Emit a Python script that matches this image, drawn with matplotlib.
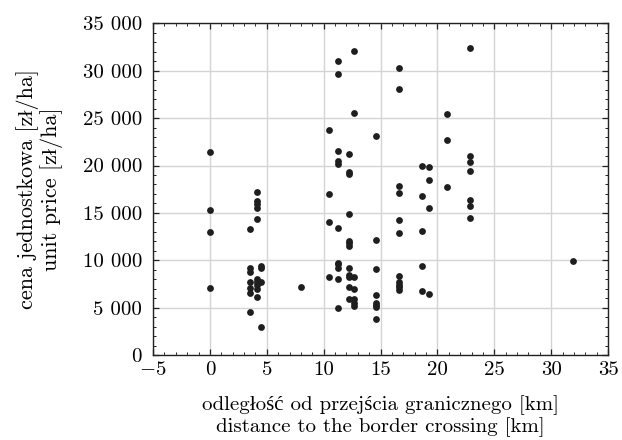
import matplotlib
matplotlib.use("Agg")
import matplotlib.pyplot as plt
import matplotlib.ticker as mtick

plt.rcParams.update({
    "font.family": ["cmr10", "Liberation Serif", "DejaVu Serif"],
    "mathtext.fontset": "cm",
    "axes.unicode_minus": False,
    "font.size": 15,
})

# distance to the border crossing [km] and unit price [zl/ha], read per column
dist_km = (
    [0.0] * 4 + [3.5] * 7 + [4.1] * 10 + [4.5] * 4 + [8.0] * 1
    + [10.45] * 4 + [11.27] * 11 + [12.26] * 12 + [12.67] * 7
    + [14.6] * 8 + [16.6] * 11 + [18.68] * 5 + [19.3] * 4
    + [20.85] * 3 + [22.9] * 7 + [31.96] * 1
)
price = [
    21400, 15260, 13010, 7070,
    13290, 9140, 8760, 7700, 7070, 6510, 4540,
    17160, 16280, 15930, 15470, 14350, 7990, 7740, 7390, 7000, 6090,
    9390, 9210, 7700, 2950,
    7210,
    23770, 16950, 14060, 8190,
    31000, 29650, 21520, 20500, 20120, 13360, 9740, 9570, 9140, 7990, 4960,
    21170, 19340, 19060, 14910, 12060, 11850, 11470, 9180, 8440, 8230, 7140, 5880,
    32040, 25500, 8190, 7000, 5880, 5520, 5200,
    23070, 12170, 9100, 6360, 5520, 5275, 5060, 3830,
    30280, 28030, 17860, 17090, 14240, 12870, 8300, 7700, 7420, 7170, 6860,
    19975, 16740, 13080, 9360, 6720,
    19800, 18500, 15540, 6470,
    25425, 22650, 17720,
    32420, 20960, 20360, 19450, 16320, 15750, 14420,
    9950,
]

fig = plt.figure(figsize=(6.22, 4.40), dpi=100)
ax = fig.add_axes([0.246, 0.193, 0.7315, 0.754])

ax.scatter(dist_km, price, s=24, color="#1e1e1e", zorder=3, linewidths=0)

ax.set_xlim(-5, 35)
ax.set_ylim(0, 35000)
ax.xaxis.set_major_locator(mtick.MultipleLocator(5))
ax.xaxis.set_minor_locator(mtick.MultipleLocator(1))
ax.yaxis.set_major_locator(mtick.MultipleLocator(5000))
ax.yaxis.set_minor_locator(mtick.MultipleLocator(1000))


def fmt_x(v, _):
    return "$-5$" if v < 0 else f"{v:.0f}"


def fmt_y(v, _):
    return f"{v:,.0f}".replace(",", " ")


ax.xaxis.set_major_formatter(mtick.FuncFormatter(fmt_x))
ax.yaxis.set_major_formatter(mtick.FuncFormatter(fmt_y))

ax.tick_params(which="both", direction="in", top=True, right=True,
               color="#222222", labelsize=15)
ax.tick_params(which="major", length=4, width=0.9)
ax.tick_params(which="minor", length=2, width=0.7)
ax.tick_params(axis="x", which="major", pad=4)
ax.tick_params(axis="y", which="major", pad=8)

ax.grid(True, which="major", color="#d4d4d4", linewidth=1.0, zorder=0)
ax.set_axisbelow(True)
for sp in ax.spines.values():
    sp.set_color("#222222")
    sp.set_linewidth(1.0)

ax.set_xlabel("odległość od przejścia granicznego [km]\n"
              "distance to the border crossing [km]",
              fontsize=15, linespacing=1.15, labelpad=12)
ax.set_ylabel("cena jednostkowa [zł/ha]\nunit price [zł/ha]",
              fontsize=16, linespacing=1.1, labelpad=14)

fig.savefig("out.png", dpi=100, facecolor="white")
